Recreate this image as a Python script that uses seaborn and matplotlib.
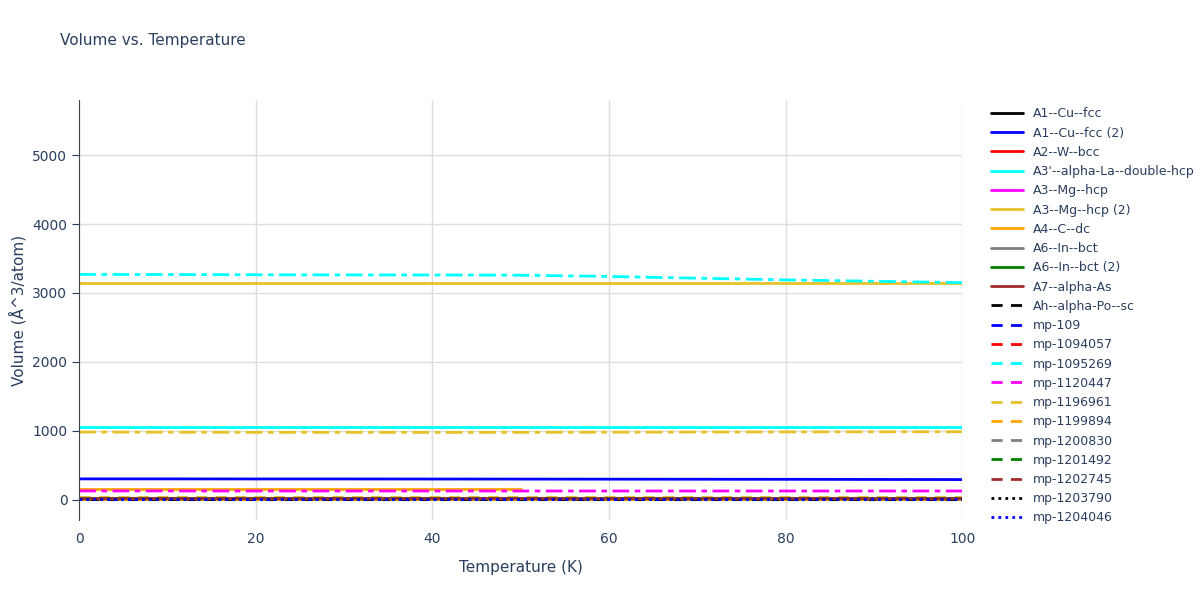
import matplotlib
matplotlib.use("Agg")
import matplotlib.pyplot as plt
import seaborn as sns
import numpy as np
import pandas as pd

T = [0, 10, 20, 30, 40, 50, 60, 70, 80, 90, 100]
T50 = [0, 10, 20, 30, 40, 50]

names = ["A1--Cu--fcc", "A1--Cu--fcc (2)", "A2--W--bcc", "A3'--alpha-La--double-hcp",
         "A3--Mg--hcp", "A3--Mg--hcp (2)", "A4--C--dc", "A6--In--bct", "A6--In--bct (2)",
         "A7--alpha-As", "Ah--alpha-Po--sc", "mp-109", "mp-1094057", "mp-1095269",
         "mp-1120447", "mp-1196961", "mp-1199894", "mp-1200830", "mp-1201492",
         "mp-1202745", "mp-1203790", "mp-1204046"]
colors = ["black", "blue", "red", "cyan", "magenta", "#e6c229", "orange", "gray", "green",
          "brown", "black", "blue", "red", "cyan", "magenta", "#e6c229", "orange", "gray",
          "green", "brown", "black", "blue"]
styles = ["-"] * 10 + [(0, (4, 3))] * 10 + [(0, (1, 1.5))] * 2

values = {
    "A1--Cu--fcc": [12] * 11,
    "A1--Cu--fcc (2)": [300, 300, 299, 299, 298, 297, 296, 295, 294, 292, 290],
    "A2--W--bcc": [16] * 11,
    "A3'--alpha-La--double-hcp": [1050] * 11,
    "A3--Mg--hcp": [23] * 11,
    "A3--Mg--hcp (2)": [3150] * 11,
    "A4--C--dc": [160, 160, 160, 160, 160, 160],
    "A6--In--bct": [26] * 11,
    "A6--In--bct (2)": [27] * 11,
    "A7--alpha-As": [22] * 11,
    "Ah--alpha-Po--sc": [10] * 11,
    "mp-109": [20] * 11,
    "mp-1094057": [17] * 11,
    "mp-1095269": [36] * 11,
    "mp-1120447": [24] * 11,
    "mp-1196961": [40] * 11,
    "mp-1199894": [11] * 11,
    "mp-1200830": [27] * 11,
    "mp-1201492": [19] * 11,
    "mp-1202745": [21] * 11,
    "mp-1203790": [13] * 11,
    "mp-1204046": [12] * 11,
}
extra_cyan = [3270, 3268, 3265, 3263, 3262, 3258, 3240, 3215, 3190, 3170, 3150]
extra_yellow = [980, 978, 976, 976, 975, 976, 978, 980, 982, 984, 985]
extra_magenta = [125, 125, 124, 124, 124, 124, 124, 124, 124, 124, 124]

sns.set_style("white")
fig, ax = plt.subplots(figsize=(12, 6), dpi=100)
fig.subplots_adjust(left=0.066, right=0.802, top=0.833, bottom=0.133)

for n, c, s in zip(names, colors, styles):
    y = values[n]
    x = T if len(y) == len(T) else T50
    sns.lineplot(x=x, y=y, ax=ax, color=c, linestyle=s, linewidth=2, label=n)
for y, c in [(extra_cyan, "cyan"), (extra_yellow, "#e6c229"), (extra_magenta, "magenta")]:
    sns.lineplot(x=T, y=y, ax=ax, color=c, linestyle=(0, (6, 2, 2, 2)), linewidth=2, label="_nolegend_")

ax.set_xlim(0, 100)
ax.set_ylim(-300, 5800)
ax.set_xticks([0, 20, 40, 60, 80, 100])
ax.set_yticks([0, 1000, 2000, 3000, 4000, 5000])
ax.grid(True, color="#dddddd", linewidth=1)
for s in ["top", "right", "bottom"]:
    ax.spines[s].set_visible(False)
ax.spines["left"].set_color("#444444")
ax.tick_params(colors="#2a3f5f", labelsize=10, left=True, length=5)
ax.set_xlabel("Temperature (K)", color="#2a3f5f", fontsize=11, labelpad=10)
ax.set_ylabel("Volume (Å^3/atom)", color="#2a3f5f", fontsize=11)
fig.text(0.05, 0.925, "Volume vs. Temperature", color="#2a3f5f", fontsize=11)
leg = ax.legend(loc="upper left", bbox_to_anchor=(1.02, 1.01), frameon=False,
                fontsize=9, labelspacing=0.5, handlelength=2.5)
for t in leg.get_texts():
    t.set_color("#2a3f5f")
fig.savefig("out.png")
